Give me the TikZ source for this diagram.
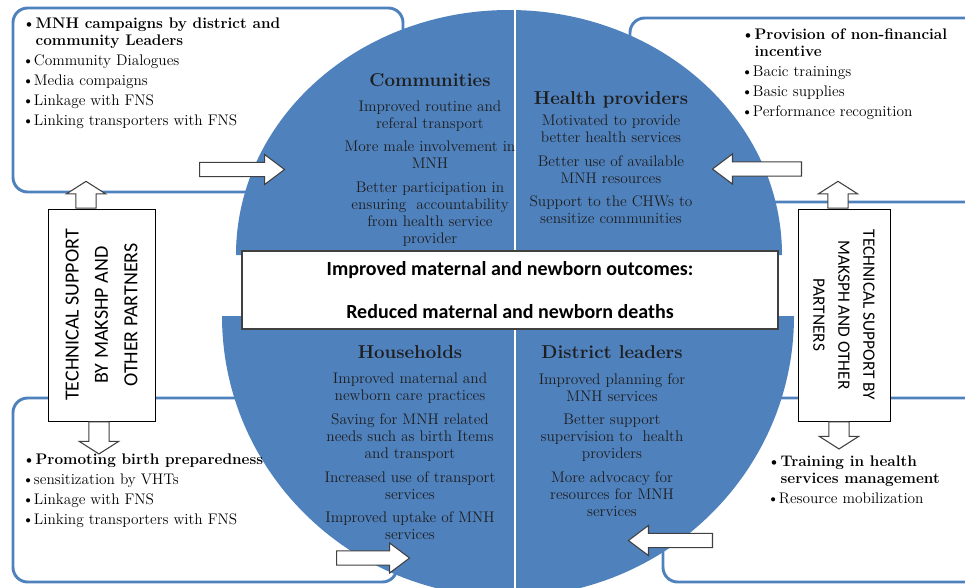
\documentclass[tikz,border=0pt]{standalone}
\usepackage{fontspec}
\newfontfamily\calibri{Carlito}
\usetikzlibrary{shapes.arrows,positioning}
\definecolor{mnhblue}{RGB}{79,129,189}
\definecolor{inkgray}{RGB}{30,30,30}
\definecolor{arrowgray}{RGB}{64,64,64}

\begin{document}
\begin{tikzpicture}[x=0.75pt,y=-0.75pt]
\tikzstyle{panel}=[draw=mnhblue, line width=2.2pt, rounded corners=11pt,
	inner sep=0pt, minimum height=138pt]
\tikzstyle{bullets}=[anchor=west, align=left, inner sep=0pt, text=black,
	font=\fontsize{11.5}{12.75}\selectfont]
\tikzstyle{quadhead}=[inner sep=0pt, text=inkgray, font=\bfseries\fontsize{14}{16}\selectfont]
\tikzstyle{quadtext}=[align=center, inner sep=0pt, text=inkgray,
	font=\fontsize{11.5}{12.75}\selectfont]
\tikzstyle{support}=[draw=black, fill=white, line width=0.6pt, minimum height=159pt, inner sep=0pt]
\tikzstyle{sidearrow}=[single arrow, draw=arrowgray, fill=white, line width=0.8pt,
	inner sep=5pt, single arrow head extend=5.9pt,
	minimum width=21.75pt, single arrow tip angle=74, anchor=tail]
\tikzstyle{uparrow}=[sidearrow, inner sep=7.2pt, single arrow head extend=7.1pt,
	minimum width=28.6pt, single arrow tip angle=115]
\useasboundingbox (0,0) rectangle (965,587);
\clip (0,0) rectangle (965,587);

\node[panel, minimum width=292.5pt] (campaigns) at (208,100) {};
\node[panel, minimum width=270pt] (incentive) at (810,110) {};
\node[panel, minimum width=288pt] (preparedness) at (205,490) {};
\node[panel, minimum width=252.75pt] (management) at (831.5,490) {};

\fill[mnhblue] (236,255) arc[start angle=180, end angle=360, x radius=273, y radius=245] -- cycle;
\fill[mnhblue] (222,316) arc[start angle=180, end angle=0, x radius=286, y radius=281] -- cycle;
\draw[white, line width=2pt] (515,5) -- (515,590);

\node[draw=arrowgray, fill=white, line width=1.1pt, minimum width=402pt, minimum height=58.5pt,
	align=center, font=\calibri\bfseries\fontsize{15}{32.25}\selectfont] (outcome) at (510,290)
	{Improved maternal and newborn outcomes:\\Reduced maternal and newborn deaths};

\node[quadhead] (communities) at (430,80) {Communities};
\node[quadtext] (commitems) at (430,173.5) {Improved routine and\\referal transport\\[5pt]More male involvement in\\MNH\\[5pt]Better participation in\\ensuring\ \ accountability\\from health service\\provider};
\node[quadhead] (providers) at (611,100) {Health providers};
\node[quadtext] (provitems) at (611,169.5) {Motivated to provide\\better health services\\[5pt]Better use of available\\MNH resources\\[5pt]Support to the CHWs to\\sensitize communities};
\node[quadhead] (households) at (410,352) {Households};
\node[quadtext] (houseitems) at (410,456.5) {Improved maternal and\\newborn care practices\\[5pt]Saving for MNH related\\needs such as birth Items\\and transport\\[5pt]Increased use of transport\\services\\[5pt]Improved uptake of MNH\\services};
\node[quadhead] (leaders) at (612,352) {District leaders};
\node[quadtext] (leaderitems) at (612,445) {Improved planning for\\MNH services\\[5pt]Better support\\supervision to\ \ health\\providers\\[5pt]More advocacy for\\resources for MNH\\services};

\node[bullets] (campaignlist) at (22,73) {\textbf{\textbullet MNH campaigns by district and}\\\textbf{\phantom{\textbullet}community Leaders}\\[2.25pt]\textbullet Community Dialogues\\[2.25pt]\textbullet Media compaigns\\[2.25pt]\textbullet Linkage with FNS\\[2.25pt]\textbullet Linking transporters with FNS};
\node[bullets] (incentivelist) at (741,74) {\textbf{\textbullet Provision of non-financial}\\\textbf{\phantom{\textbullet}incentive}\\[2.25pt]\textbullet Bacic trainings\\[2.25pt]\textbullet Basic supplies\\[2.25pt]\textbullet Performance recognition};
\node[bullets] (preparelist) at (22,490.5) {\textbf{\textbullet Promoting birth preparedness}\\[2.25pt]\textbullet sensitization by VHTs\\[2.25pt]\textbullet Linkage with FNS\\[2.25pt]\textbullet Linking transporters with FNS};
\node[bullets] (managelist) at (767,479.5) {\textbf{\textbullet Training in health}\\\textbf{\phantom{\textbullet}services management}\\[2.25pt]\textbullet Resource mobilization};

\node[support, minimum width=80.25pt] (techleft) at (101.5,315) {};
\node[rotate=90, align=center, font=\calibri\fontsize{15}{22}\selectfont] (techlefttext) at (techleft) {TECHNICAL SUPPORT\\BY MAKSHP AND\\OTHER PARTNERS};
\node[support, minimum width=69pt] (techright) at (844,315) {};
\node[rotate=-90, align=center, font=\calibri\fontsize{13}{18.75}\selectfont] (techrighttext) at (techright) {TECHNICAL SUPPORT BY\\MAKSPH AND OTHER\\PARTNERS};

\node[sidearrow, minimum height=63.75pt] (tocommunities) at (199,169.5) {};
\node[sidearrow, shape border rotate=180, minimum height=66.75pt] (toproviders) at (802,169) {};
\node[sidearrow, minimum height=54.75pt] (tohouseholds) at (336,558) {};
\node[sidearrow, shape border rotate=180, minimum height=63pt] (toleaders) at (713,540.5) {};
\node[uparrow, shape border rotate=90, minimum height=19.5pt] (upleft) at ([xshift=-11.6pt]techleft.north) {};
\node[uparrow, shape border rotate=270, minimum height=24pt] (downleft) at ([xshift=-1.9pt]techleft.south) {};
\node[uparrow, shape border rotate=90, minimum height=19.5pt] (upright) at ([xshift=-4.5pt]techright.north) {};
\node[uparrow, shape border rotate=270, minimum height=20.25pt] (downright) at ([xshift=-3.75pt]techright.south) {};

\end{tikzpicture}
\end{document}
